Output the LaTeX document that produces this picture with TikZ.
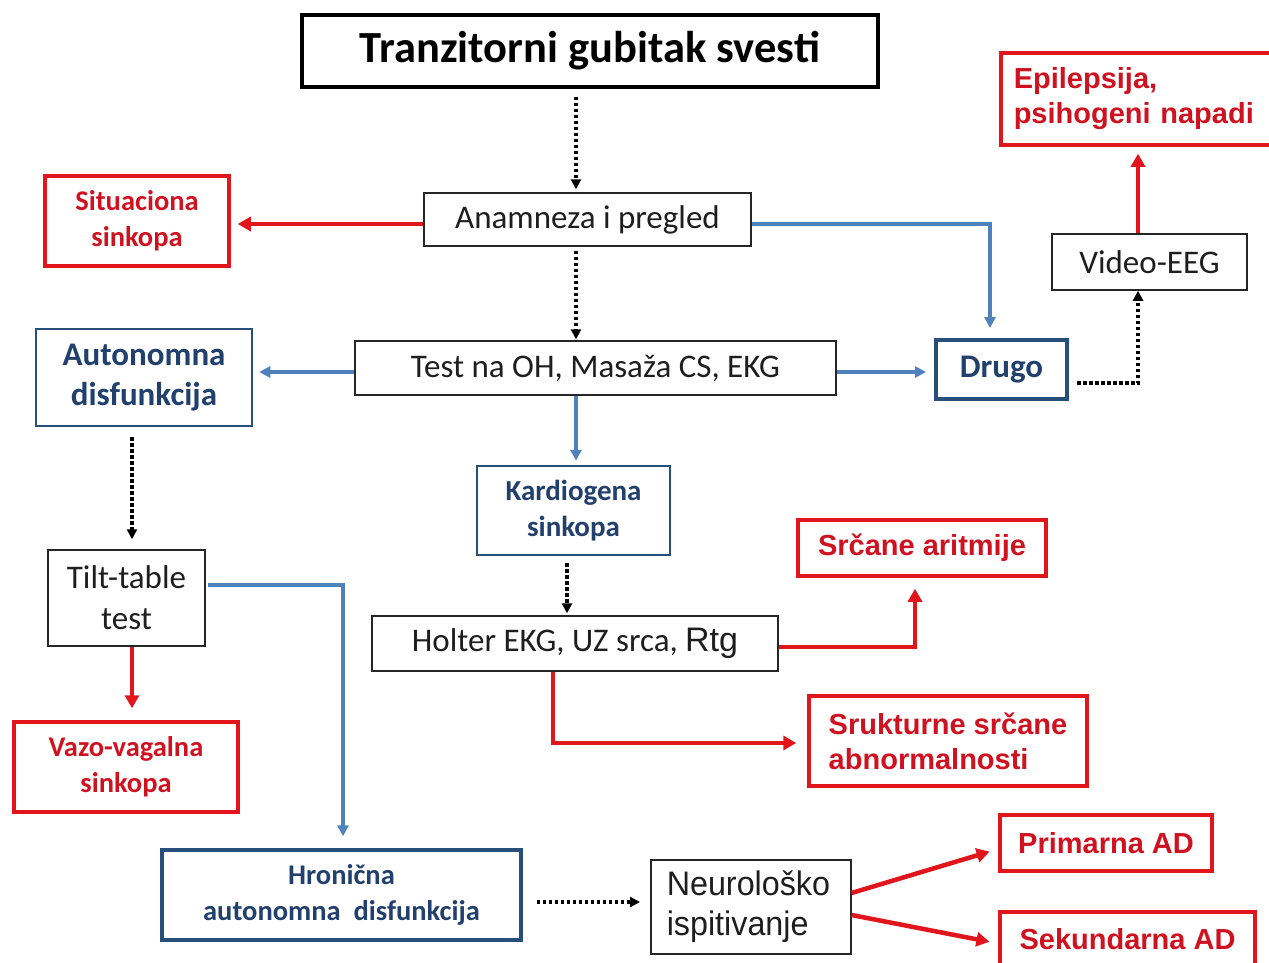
\documentclass[tikz,border=0pt]{standalone}
\usepackage{fontspec}
\setmainfont{Carlito}
\newfontfamily\arialfont{Liberation Sans}
\newfontfamily\narrowfont{Liberation Sans}[FakeStretch=0.95]
\usetikzlibrary{arrows.meta}
\definecolor{redline}{RGB}{226,20,28}
\definecolor{redtext}{RGB}{208,18,32}
\definecolor{bluebox}{RGB}{40,78,122}
\definecolor{bluetext}{RGB}{33,64,110}
\definecolor{blueline}{RGB}{79,129,189}
\definecolor{greytext}{RGB}{30,30,30}
\begin{document}
\begin{tikzpicture}[x=1pt,y=-1pt,
  plainbox/.style={draw=black!85, line width=1.5pt, fill=white, text=greytext,
    font=\fontsize{33}{41}\selectfont, align=center, inner sep=0pt},
  titlebox/.style={draw=black, line width=3.5pt, fill=white, text=black,
    font=\bfseries\fontsize{44.5}{50}\selectfont, inner sep=0pt},
  redbox/.style={draw=redline, line width=3.5pt, fill=white, text=redtext,
    font=\bfseries\fontsize{28.5}{36}\selectfont, align=center, inner sep=0pt},
  redarial/.style={redbox, font=\arialfont\bfseries\fontsize{29}{35}\selectfont},
  bluebx/.style={draw=bluebox, line width=2.5pt, fill=white, text=bluetext,
    font=\bfseries\fontsize{33}{40}\selectfont, align=center, inner sep=0pt},
  redarrow/.style={draw=redline, line width=4.5pt,
    -{Triangle[length=13pt,width=14pt]}},
  bluearrow/.style={draw=blueline, line width=3.5pt,
    -{Triangle[length=11pt,width=11pt]}},
  dotarrow/.style={draw=black, line width=3.5pt, dash pattern=on 3.5pt off 2.5pt,
    -{Triangle[length=10pt,width=10pt]}}
]
\useasboundingbox[fill=white] (0,0) rectangle (1269,963);

% boxes
\node[titlebox, minimum width=576, minimum height=72] (title) at (590,51) {Tranzitorni gubitak svesti};
\node[plainbox, minimum width=327, minimum height=53] (anam) at (587.5,219.5) {Anamneza i pregled};
\node[redbox, minimum width=184, minimum height=90] (sit) at (137,221) {Situaciona\\sinkopa};
\node[plainbox, minimum width=481, minimum height=54] (test) at (595.5,368) {Test na OH, Masaža CS, EKG};
\node[bluebx, minimum width=216, minimum height=97] (auto) at (144,377.5) {Autonomna\\disfunkcija};
\node[bluebx, line width=4pt, minimum width=131, minimum height=59] (drugo) at (1001.5,369.5) {Drugo};
\node[plainbox, minimum width=195, minimum height=56] (video) at (1149.5,262) {Video-EEG};
\node[redarial, align=left, inner xsep=13pt, text width=262pt, minimum height=92, anchor=west] (epi) at (999,99) {Epilepsija,\\psihogeni napadi};
\node[bluebx, font=\bfseries\fontsize{29}{36}\selectfont, minimum width=193, minimum height=89] (kard) at (573.5,510.5) {Kardiogena\\sinkopa};
\node[plainbox, minimum width=406, minimum height=55] (holter) at (575,643.5) {Holter EKG, UZ srca, {\arialfont\fontsize{34}{38}\selectfont Rtg}};
\node[redarial, minimum width=248, minimum height=56] (srcane) at (922,548) {Srčane aritmije};
\node[redarial, align=left, minimum width=278, minimum height=90] (struk) at (948,741) {Srukturne srčane\\abnormalnosti};
\node[plainbox, minimum width=157, minimum height=96] (tilt) at (126.5,598) {Tilt-table\\test};
\node[redbox, minimum width=224, minimum height=90] (vazo) at (126,767) {Vazo-vagalna\\sinkopa};
\node[bluebx, line width=3.5pt, font=\bfseries\fontsize{28.5}{36}\selectfont, minimum width=359, minimum height=90] (hron) at (341.5,895) {Hronična\\autonomna\ \ disfunkcija};
\node[plainbox, font=\narrowfont\fontsize{34}{40}\selectfont, align=left, inner xsep=16pt, text width=168pt, minimum height=94, anchor=west] (neuro) at (650,907) {Neurološko\\ispitivanje};
\node[redarial, minimum width=212, minimum height=56] (prim) at (1106,843) {Primarna AD};
\node[redarial, minimum width=255, minimum height=55] (sek) at (1127.5,939.5) {Sekundarna AD};

% connector columns and rows
\coordinate (cA) at (576,0);
\coordinate (cB) at (990,0);
\coordinate (cC) at (1138,0);
\coordinate (cD) at (132,0);
\coordinate (cE) at (343,0);
\coordinate (cF) at (567,0);
\coordinate (cG) at (915,0);
\coordinate (cH) at (553,0);
\coordinate (rSit) at (0,224);
\coordinate (rTest) at (0,372);
\coordinate (rDrugo) at (0,383);
\coordinate (rTilt) at (0,585);
\coordinate (rHolter) at (0,647);
\coordinate (rStruk) at (0,743);
\coordinate (rHron) at (0,902);

% connectors
\draw[dotarrow, shorten <=8pt, shorten >=3pt] (title.south -| cA) -- (anam.north -| cA);
\draw[redarrow, shorten >=7pt] (anam.west |- rSit) -- (sit.east |- rSit);
\draw[bluearrow, shorten >=10pt] (anam.east |- rSit) -- (cB |- rSit) -- (drugo.north -| cB);
\draw[dotarrow, shorten <=4pt, shorten >=1pt] (anam.south -| cA) -- (test.north -| cA);
\draw[bluearrow, shorten >=6pt] (test.west |- rTest) -- (auto.east |- rTest);
\draw[bluearrow, shorten >=8pt] (test.east |- rTest) -- (drugo.west |- rTest);
\draw[dotarrow, shorten <=8pt] (drugo.east |- rDrugo) -- (cC |- rDrugo) -- (video.south -| cC);
\draw[redarrow, shorten >=7pt] (video.north -| cC) -- (epi.south -| cC);
\draw[bluearrow, shorten >=4pt] (test.south -| cA) -- (kard.north -| cA);
\draw[dotarrow, shorten <=7pt, shorten >=2pt] (kard.south -| cF) -- (holter.north -| cF);
\draw[redarrow, shorten >=11pt] (holter.east |- rHolter) -- (cG |- rHolter) -- (srcane.south -| cG);
\draw[redarrow, shorten >=11pt] (holter.south -| cH) -- (cH |- rStruk) -- (struk.west |- rStruk);
\draw[dotarrow, shorten <=10pt, shorten >=10pt] (auto.south -| cD) -- (tilt.north -| cD);
\draw[redarrow, shorten >=12pt] (tilt.south -| cD) -- (vazo.north -| cD);
\draw[bluearrow, shorten <=2pt, shorten >=12pt] (tilt.east |- rTilt) -- (cE |- rTilt) -- (hron.north -| cE);
\draw[dotarrow, shorten <=14pt, shorten >=10pt] (hron.east |- rHron) -- (neuro.west |- rHron);
\draw[redarrow, shorten >=9pt] ([yshift=14pt]neuro.east) -- ([yshift=-6pt]prim.west);
\draw[redarrow, shorten >=9pt] ([yshift=-8pt]neuro.east) -- ([yshift=-4pt]sek.west);
\end{tikzpicture}
\end{document}
